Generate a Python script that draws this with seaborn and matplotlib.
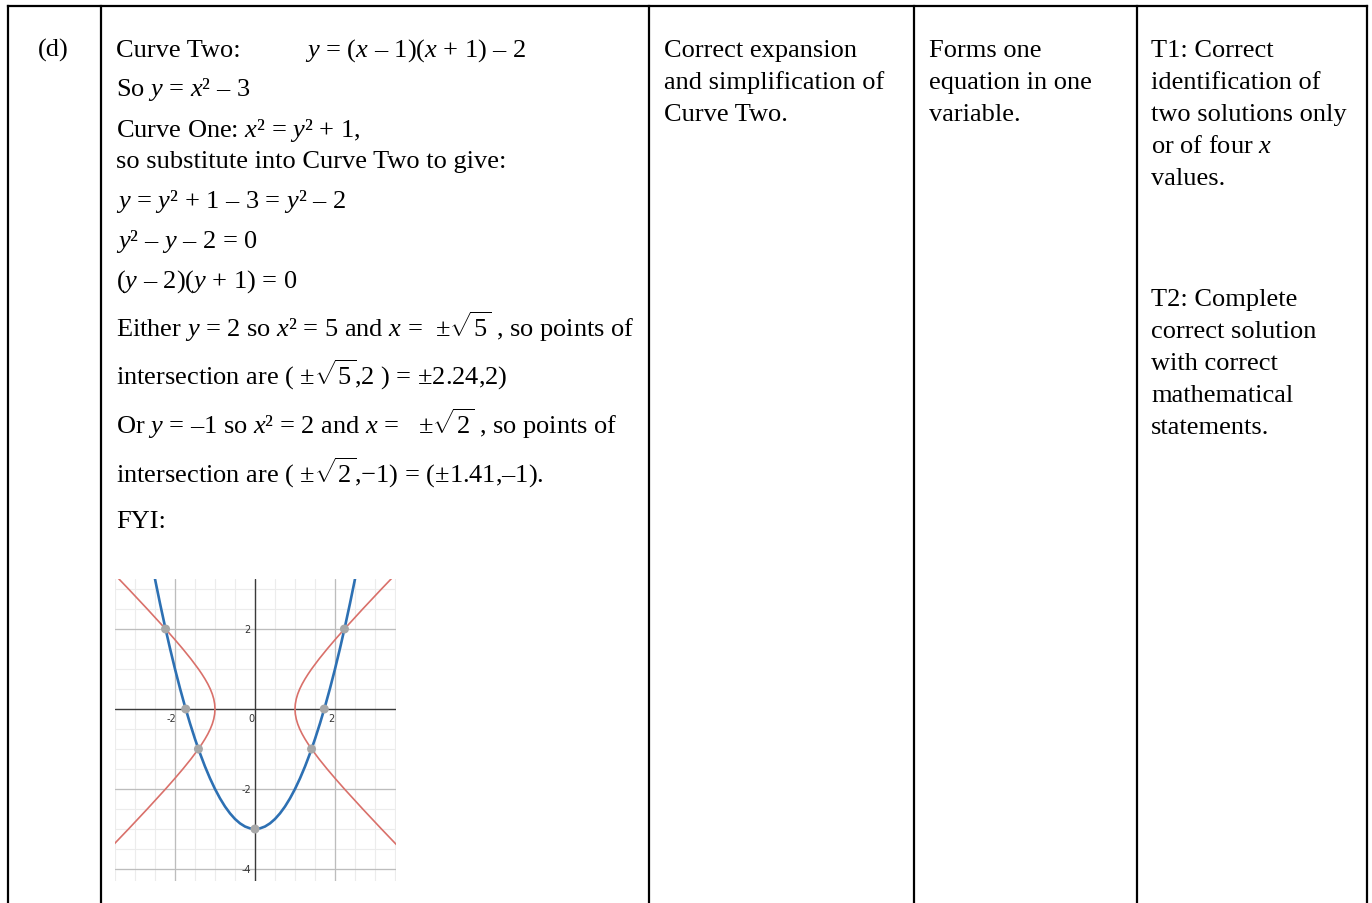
import numpy as np
import pandas as pd
import matplotlib
matplotlib.use("Agg")
import matplotlib.pyplot as plt
import seaborn as sns

# --- table layout (pixels) ---
col_edges = [8, 101, 649, 914, 1137, 1367]
top_edge = 7

# --- graph data ---
# Curve Two: y = x^2 - 3 (blue parabola), right half; left half is the mirror image
par_x_half = [0.0, 0.125, 0.25, 0.375, 0.5, 0.625, 0.75, 0.875, 1.0, 1.125, 1.25,
              1.375, 1.5, 1.625, 1.75, 1.875, 2.0, 2.125, 2.25, 2.375, 2.5]
par_y_half = [-3.0, -2.984, -2.938, -2.859, -2.75, -2.609, -2.438, -2.234, -2.0, -1.734, -1.438,
              -1.109, -0.75, -0.359, 0.0625, 0.516, 1.0, 1.516, 2.0625, 2.641, 3.25]

# Curve One: x^2 = y^2 + 1 (red hyperbola), right branch; left branch is the mirror image
hyp_y = [-3.6, -3.0, -2.5, -2.0, -1.75, -1.5, -1.25, -1.0, -0.875, -0.75, -0.625, -0.5,
         -0.375, -0.25, -0.125, 0.0, 0.125, 0.25, 0.375, 0.5, 0.625, 0.75, 0.875, 1.0,
         1.25, 1.5, 1.75, 2.0, 2.5, 3.0, 3.6]
hyp_x = [3.736, 3.162, 2.693, 2.236, 2.016, 1.803, 1.601, 1.414, 1.329, 1.25, 1.179, 1.118,
         1.068, 1.031, 1.008, 1.0, 1.008, 1.031, 1.068, 1.118, 1.179, 1.25, 1.329, 1.414,
         1.601, 1.803, 2.016, 2.236, 2.693, 3.162, 3.736]

# highlighted points
pts_x = [-2.236, 2.236, -1.732, 1.732, -1.414, 1.414, 0.0]
pts_y = [2.0, 2.0, 0.0, 0.0, -1.0, -1.0, -3.0]

x_ticks = [-2, 0, 2]
y_ticks = [2, -2, -4]

# --- text of the table ---
col2_text = [
    (96, r"So $y$ = $x$² – 3"),
    (137, r"Curve One: $x$² = $y$² + 1,"),
    (168, "so substitute into Curve Two to give:"),
    (208, r"$y$ = $y$² + 1 – 3 = $y$² – 2"),
    (248, r"$y$² – $y$ – 2 = 0"),
    (288, r"($y$ – 2)($y$ + 1) = 0"),
    (337, r"Either $y$ = 2 so $x$² = 5 and $x$ =  $\pm\sqrt{5}$ , so points of"),
    (385, r"intersection are ( $\pm\sqrt{5}$,2 ) = ±2.24,2)"),
    (434, r"Or $y$ = –1 so $x$² = 2 and $x$ =   $\pm\sqrt{2}$ , so points of"),
    (483, r"intersection are ( $\pm\sqrt{2}$,$-$1) = (±1.41,–1)."),
    (528, "FYI:"),
]
col3_text = ["Correct expansion", "and simplification of", "Curve Two."]
col4_text = ["Forms one", "equation in one", "variable."]
col5_t1 = ["T1: Correct", "identification of", "two solutions only", r"or of four $x$", "values."]
col5_t2 = ["T2: Complete", "correct solution", "with correct", "mathematical", "statements."]

sns.set_style("white")
plt.rcParams["font.family"] = ["Liberation Serif", "DejaVu Serif"]
plt.rcParams["text.color"] = "black"
plt.rcParams["mathtext.fontset"] = "custom"
plt.rcParams["mathtext.rm"] = "Liberation Serif"
plt.rcParams["mathtext.it"] = "Liberation Serif:italic"
plt.rcParams["mathtext.bf"] = "Liberation Serif:bold"

W, H = 1372, 904
fig = plt.figure(figsize=(W / 100, H / 100), dpi=100)
bg = fig.add_axes([0, 0, 1, 1])
bg.set_xlim(0, W)
bg.set_ylim(H, 0)
bg.axis("off")

# table rules
bg.plot([col_edges[0], col_edges[-1]], [top_edge, top_edge], color="black", lw=1.6,
        solid_capstyle="projecting")
for xe in col_edges:
    bg.plot([xe, xe], [top_edge, H + 5], color="black", lw=1.6, solid_capstyle="projecting")

fs = 19
bg.text(38, 57, "(d)", fontsize=fs, va="baseline")
bg.text(116, 57, "Curve Two:", fontsize=fs, va="baseline")
bg.text(305, 57, r"$y$ = ($x$ – 1)($x$ + 1) – 2", fontsize=fs, va="baseline")
for yb, s in col2_text:
    bg.text(116, yb, s, fontsize=fs, va="baseline")

for i, s in enumerate(col3_text):
    bg.text(664, 57 + 32 * i, s, fontsize=fs, va="baseline")
for i, s in enumerate(col4_text):
    bg.text(929, 57 + 32 * i, s, fontsize=fs, va="baseline")
for i, s in enumerate(col5_t1):
    bg.text(1151, 57 + 32 * i, s, fontsize=fs, va="baseline")
for i, s in enumerate(col5_t2):
    bg.text(1151, 306 + 32 * i, s, fontsize=fs, va="baseline")

# --- the FYI graph ---
gx0, gy0, gx1, gy1 = 115, 580, 396, 882
ax = fig.add_axes([gx0 / W, 1 - gy1 / H, (gx1 - gx0) / W, (gy1 - gy0) / H])
ax.set_xlim(-3.5, 3.525)
ax.set_ylim(-4.3, 3.25)
for sp in ax.spines.values():
    sp.set_visible(False)
ax.set_xticks([])
ax.set_yticks([])

for v in np.arange(-3.5, 3.6, 0.5):
    ax.axvline(v, color="#ececec", lw=0.8, zorder=0)
for v in np.arange(-4.0, 3.3, 0.5):
    ax.axhline(v, color="#ececec", lw=0.8, zorder=0)
for v in [-2, 2]:
    ax.axvline(v, color="#bdbdbd", lw=0.9, zorder=0.5)
for v in [-4, -2, 2]:
    ax.axhline(v, color="#bdbdbd", lw=0.9, zorder=0.5)
ax.axvline(0, color="#3a3a3a", lw=1.0, zorder=1)
ax.axhline(0, color="#3a3a3a", lw=1.0, zorder=1)

hyp = pd.DataFrame({"x": hyp_x + [-v for v in hyp_x],
                    "y": hyp_y + hyp_y,
                    "branch": ["right"] * len(hyp_x) + ["left"] * len(hyp_x)})
for b, d in hyp.groupby("branch"):
    sns.lineplot(data=d, x="x", y="y", sort=False, estimator=None, color="#d9706a",
                 lw=1.2, ax=ax, zorder=2)
par = pd.DataFrame({"x": [-v for v in par_x_half[::-1]] + par_x_half[1:],
                    "y": par_y_half[::-1] + par_y_half[1:]})
sns.lineplot(data=par, x="x", y="y", sort=False, estimator=None, color="#2d70b3",
             lw=1.9, ax=ax, zorder=3)
sns.scatterplot(x=pts_x, y=pts_y, color="#a8a8a8", s=42, edgecolor="none", ax=ax, zorder=4)
ax.set_xlabel("")
ax.set_ylabel("")

for t in x_ticks:
    ax.text(t - 0.1, -0.22, f"{t}" if t >= 0 else f"-{abs(t)}", fontsize=7,
            family="DejaVu Sans", color="#333333", ha="center", va="center", zorder=5)
for t in y_ticks:
    ax.text(-0.1, t, f"{t}" if t >= 0 else f"-{abs(t)}", fontsize=7,
            family="DejaVu Sans", color="#333333", ha="right", va="center", zorder=5)

fig.savefig("out.png", dpi=100)
